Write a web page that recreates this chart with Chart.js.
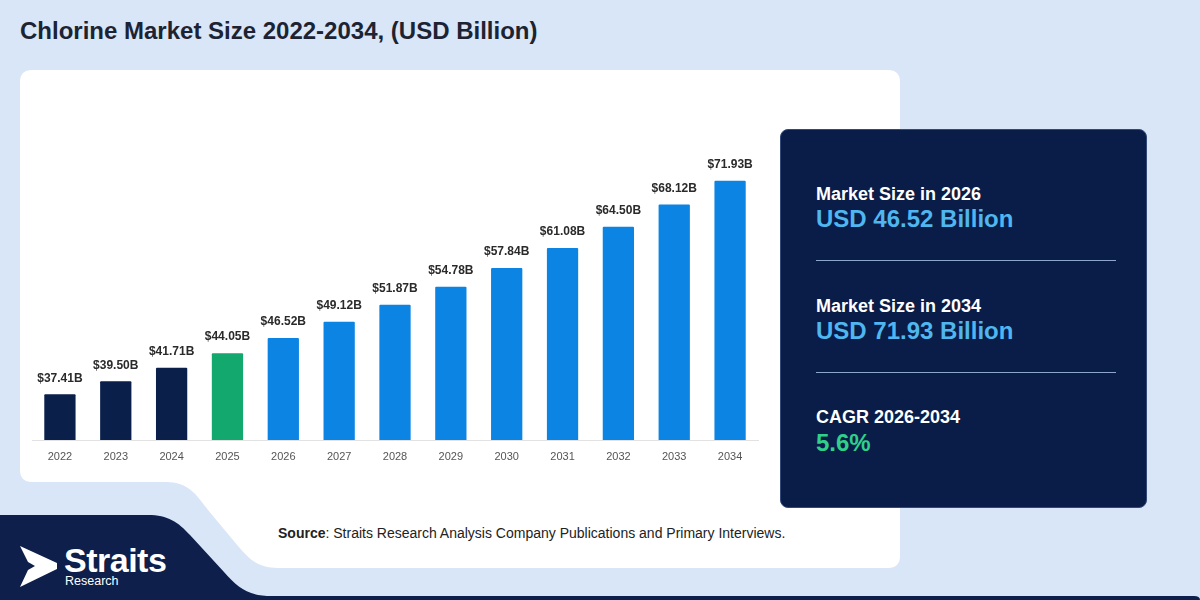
<!DOCTYPE html>
<html>
<head>
<meta charset="utf-8">
<script src="https://cdn.jsdelivr.net/npm/chart.js@4.4.1/dist/chart.umd.min.js"></script>
<style>
  html, body { margin: 0; padding: 0; }
  body { width: 1200px; height: 600px; background: #d8e6f8; position: relative; overflow: hidden;
         font-family: "Liberation Sans", Arial, sans-serif; }
  #bg { position: absolute; left: 0; top: 0; }
  #title { position: absolute; left: 20px; top: 17px; font-size: 24px; font-weight: bold; color: #1c2333; }
  #chartBox { position: absolute; left: 0; top: 0; width: 780px; height: 480px; }
  #panel { position: absolute; left: 780px; top: 129px; width: 365px; height: 377px; background: #0a1d48;
           border: 1px solid #33497a; border-radius: 8px; color: #fff; }
  .lbl { position: absolute; left: 35px; font-size: 18px; font-weight: bold; color: #fff; }
  .val { position: absolute; left: 35px; font-size: 24px; font-weight: bold; }
  .rule { position: absolute; left: 35px; width: 300px; height: 1px; background: #8ea6cc; }
  #source { position: absolute; left: 278px; top: 525px; font-size: 14px; color: #222; }
  #logo1 { position: absolute; left: 64px; top: 541px; font-size: 34px; font-weight: bold; color: #fff; letter-spacing: -0.5px; }
  #logo2 { position: absolute; left: 65px; top: 574px; font-size: 12.5px; color: #fff; }
</style>
</head>
<body>
<svg id="bg" width="1200" height="600">
  <path d="M20,82 Q20,70 32,70 L888,70 Q900,70 900,82 L900,556 Q900,568 888,568 L278,568 C258,568 250,560 238,546 L208,510 C196,494 188,482 166,482 L32,482 Q20,482 20,470 Z" fill="#ffffff"/>
  <path d="M0,515 L148,515 C168,515 178,522 190,535 L224,572 C238,588 248,596 272,596 L1194,596 Q1200,596 1200,600 L0,600 Z" fill="#0d1f4a"/>
  <path d="M20,546 L57,563 L57,569 L20,587 L28,570 L35,566 L28,562 Z" fill="#ffffff"/>
</svg>
<div id="title">Chlorine Market Size 2022-2034, (USD Billion)</div>
<div id="chartBox"><canvas id="chlorine-chart"></canvas></div>
<div id="panel">
  <div class="lbl" style="top:54px">Market Size in 2026</div>
  <div class="val" style="top:75px;color:#4fb6ef">USD 46.52 Billion</div>
  <div class="rule" style="top:130px"></div>
  <div class="lbl" style="top:166px">Market Size in 2034</div>
  <div class="val" style="top:187px;color:#4fb6ef">USD 71.93 Billion</div>
  <div class="rule" style="top:242px"></div>
  <div class="lbl" style="top:277px">CAGR 2026-2034</div>
  <div class="val" style="top:299px;color:#2fd08a">5.6%</div>
</div>
<div id="source"><b>Source</b>: Straits Research Analysis Company Publications and Primary Interviews.</div>
<div id="logo1">Straits</div>
<div id="logo2">Research</div>

<script>
    // Datos del gráfico
    const years = ['2022', '2023', '2024', '2025', '2026', '2027', '2028', '2029', '2030', '2031', '2032', '2033', '2034'];
    const marketSize = [37.41, 39.50, 41.71, 44.05, 46.52, 49.12, 51.87, 54.78, 57.84, 61.08, 64.50, 68.12, 71.93];
    const barColors = ['#0b1f4b', '#0b1f4b', '#0b1f4b', '#12a86e', '#0b84e3', '#0b84e3', '#0b84e3',
                       '#0b84e3', '#0b84e3', '#0b84e3', '#0b84e3', '#0b84e3', '#0b84e3'];

    // Etiquetas sobre las barras
    const valueLabels = {
        id: 'valueLabels',
        afterDatasetsDraw(chart) {
            const ctx = chart.ctx;
            const meta = chart.getDatasetMeta(0);
            ctx.save();
            ctx.font = 'bold 12px "Liberation Sans", Arial, sans-serif';
            ctx.fillStyle = '#2a2a2a';
            ctx.textAlign = 'center';
            ctx.textBaseline = 'middle';
            meta.data.forEach((bar, i) => {
                ctx.fillText('$' + marketSize[i].toFixed(2) + 'B', bar.x, bar.y - 16);
            });
            ctx.restore();
        }
    };

    const chlorineChart = new Chart(document.getElementById('chlorine-chart'), {
        type: 'bar',
        data: {
            labels: years,
            datasets: [{
                label: 'Market Size',
                backgroundColor: barColors,
                data: marketSize,
                barPercentage: 0.56,
                categoryPercentage: 1.0,
                borderRadius: 1
            }]
        },
        options: {
            responsive: true,
            maintainAspectRatio: false,
            animation: false,
            layout: {
                padding: { left: 32, right: 22, top: 131, bottom: 0 }
            },
            plugins: {
                legend: { display: false },
                tooltip: { enabled: false }
            },
            scales: {
                x: {
                    grid: { display: false, drawTicks: false },
                    border: { display: true, color: '#e2e2e2' },
                    ticks: {
                        color: '#555',
                        padding: 10,
                        font: { size: 11, family: '"Liberation Sans", Arial, sans-serif' }
                    },
                    afterFit(scale) { scale.height = 40; }
                },
                y: {
                    display: false,
                    min: 30,
                    max: 80
                }
            }
        },
        plugins: [valueLabels]
    });
</script>
</body>
</html>
